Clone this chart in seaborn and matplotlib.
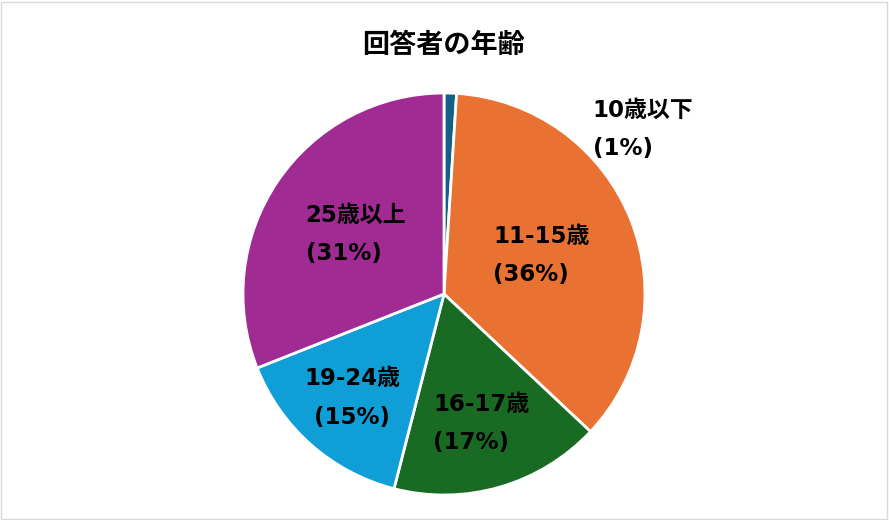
import matplotlib
matplotlib.use("Agg")
import matplotlib.pyplot as plt
import seaborn as sns
import numpy as np

# Data
categories = ["10歳以下", "11-15歳", "16-17歳", "19-24歳", "25歳以上"]
shares = [1, 36, 17, 15, 31]
colors = ["#156082", "#E97132", "#196B24", "#0F9ED5", "#A02B93"]

sns.set_theme(style="white")
plt.rcParams["font.family"] = ["DejaVu Sans", "Noto Sans CJK JP"]

fig = plt.figure(figsize=(8.89, 5.2), dpi=100)
ax = fig.add_axes([243 / 889, 25 / 520, 402 / 889, 402 / 520])

wedges, _ = ax.pie(shares, colors=colors, startangle=90, counterclock=False,
                   wedgeprops=dict(edgecolor="white", linewidth=2))
ax.set_aspect("equal")
ax.set_xlim(-1, 1)
ax.set_ylim(-1, 1)

# label distance per slice (fraction of radius); first label sits outside
label_dist = [None, 0.52, 0.67, 0.69, 0.53]
align = ["left", "left", "left", "center", "left"]
for w, cat, s, d, al in zip(wedges, categories, shares, label_dist, align):
    txt = f"{cat}\n({s}%)"
    if d is None:
        x, y = 0.99, 0.82
    else:
        ang = np.deg2rad((w.theta1 + w.theta2) / 2)
        x, y = d * np.cos(ang), d * np.sin(ang)
    ax.text(x, y, txt, ha="center", va="center", fontsize=16.5, multialignment=al,
            fontweight="bold", linespacing=1.85, color="black")

fig.text(444 / 889, 1 - 45 / 520, "回答者の年齢", ha="center", va="center",
         fontsize=19.5, fontweight="bold", color="black", family=["Noto Sans CJK JP"])

fig.patches.append(plt.Rectangle((0.001, 0.002), 0.997, 0.995, transform=fig.transFigure,
                                 fill=False, edgecolor="#d9d9d9", linewidth=1))

fig.savefig("out.png", dpi=100)
